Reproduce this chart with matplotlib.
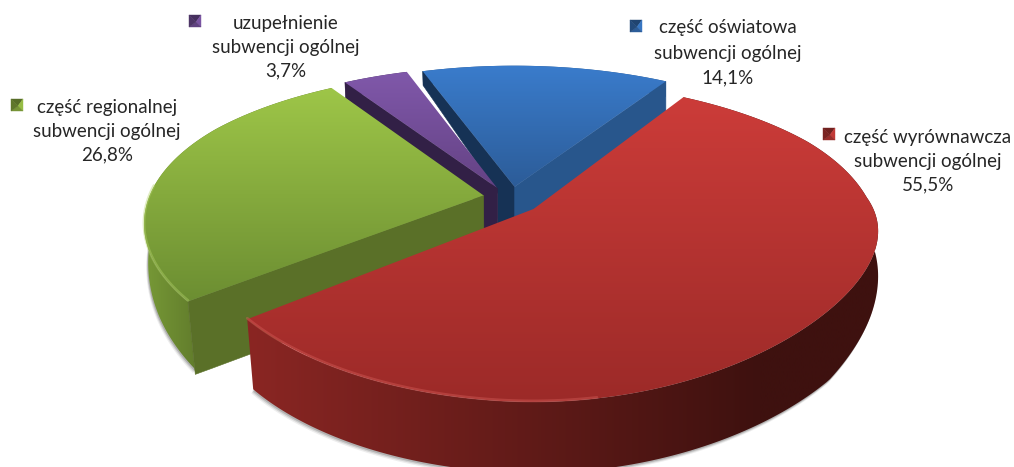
import numpy as np
import matplotlib
matplotlib.use("Agg")
import matplotlib.pyplot as plt
from matplotlib.patches import Polygon

# data
names = ["część wyrównawcza", "część regionalnej", "uzupełnienie", "część oświatowa"]
line2 = ["subwencji ogólnej"] * 4
shares = [55.5, 26.8, 3.7, 14.1]

# style
start_angle = 31.5
explode = [0.12, 0.065, 0.07, 0.07]
nudge = [0, 2, 4, 9]
warp = [21, 11, 0, 0]
start_wall_min = [0, 73, 0, 0]
end_wall_min = [0, 0, 0, 38]
top_cols = [((204, 60, 57), (156, 42, 40)), ((158, 198, 72), (108, 142, 50)),
            ((128, 88, 170), (100, 66, 132)), ((58, 124, 204), (44, 92, 152))]
rim_cols = [((138, 38, 35), (62, 17, 15)), ((118, 152, 54), (90, 114, 40)),
            ((70, 45, 95), (60, 38, 82)), ((40, 85, 140), (40, 85, 140))]
wall_start = [None, (90, 112, 40), (50, 32, 70), (22, 50, 85)]
wall_end = [None, None, None, (40, 86, 140)]
edge_cols = ["#d8605c", "#b4d46a", "#9878c0", "#6a9ad8"]
key_pos = [(829, 134), (17, 105), (195, 21), (636, 26)]
label_pos = [(928, [137, 161, 185]), (107, [107, 131, 155]),
             (286, [23, 47, 71]), (728, [28, 53, 78])]
draw_order = [3, 2, 1, 0]

X0, Y0, A, B, K = 503, 197, 340, 149, 0.2

plt.rcParams['font.family'] = ['Lato', 'DejaVu Sans']
fig = plt.figure(figsize=(10.14, 4.67), dpi=100)
ax = fig.add_axes([0, 0, 1, 1])
ax.set_xlim(0, 1014)
ax.set_ylim(467, 0)
ax.axis("off")


def project(u, v, w):
    s = 1.0 / (1.0 + K * v)
    x = X0 + A * u * s
    x = x + w * np.maximum(-u, 0) * np.maximum(0.5 - v, 0)
    x = x - 14 * np.maximum(u, 0) * np.maximum(0.4 - v, 0)
    y = Y0 - B * v * s - 25 * np.maximum(u, 0) ** 2 * np.maximum(-v, 0)
    return x, y


def depth(y):
    return np.interp(y, [70, 190, 260, 310, 470], [14, 31, 55, 70, 72])


def lower(x, y, d):
    """Lower edge of a wall: its depth, leaning inwards on the left side."""
    return x + 0.1 * d * np.clip((X0 - x) / 300, 0, 1), y + d


def grad_fill(poly, c0, c1, horizontal=False, lim=None, z=1):
    c0, c1 = np.array(c0) / 255, np.array(c1) / 255
    lo, hi = lim
    if horizontal:
        xs = np.linspace(0, 1014, 512)
        t = np.clip((xs - lo) / (hi - lo), 0, 1)
        colors = c0[None, :] * (1 - t[:, None]) + c1[None, :] * t[:, None]
        img, ext = colors[None, :, :], [0, 1014, 467, 0]
    else:
        t = np.linspace(0, 1, 256)
        colors = c0[None, :] * (1 - t[:, None]) + c1[None, :] * t[:, None]
        img, ext = colors[:, None, :], [0, 1014, hi, lo]
    im = ax.imshow(img, extent=ext, aspect="auto", zorder=z, interpolation="bilinear")
    p = Polygon(poly, closed=True, transform=ax.transData, fc="none", ec="none")
    ax.add_patch(p)
    im.set_clip_path(p)
    ax.set_xlim(0, 1014)
    ax.set_ylim(467, 0)


def solid(poly, col, z):
    ax.add_patch(Polygon(poly, closed=True, fc=np.array(col) / 255,
                         ec=np.array(col) / 255, lw=0.4, zorder=z))


angles = start_angle + np.cumsum([0] + shares) * 3.6
z = 2
geo = []
for i, share in enumerate(shares):
    t0, t1 = np.radians(angles[i]), np.radians(angles[i + 1])
    mid = (t0 + t1) / 2
    u0, v0 = explode[i] * np.sin(mid), explode[i] * np.cos(mid)
    th = np.linspace(t0, t1, 200)
    w = warp[i]
    ax_, ay_ = project(u0 + np.sin(th), v0 + np.cos(th), w)
    px, py = project(u0, v0, w)
    f = np.linspace(0, 1, 40)
    e0 = project(u0 + f * np.sin(t0), v0 + f * np.cos(t0), w)
    e1 = project(u0 + f * np.sin(t1), v0 + f * np.cos(t1), w)
    n = nudge[i]
    geo.append((ax_ + n, ay_, px + n, py, (e0[0] + n, e0[1]), (e1[0] + n, e1[1])))

# soft shadow under the pie
for i in (0, 1):
    ax_, ay_, px, py, e0, e1 = geo[i]
    lx, ly = lower(ax_, ay_, depth(ay_))
    keep = ay_ > py
    bx = np.r_[px, lx[keep]]
    by = np.r_[py, ly[keep]]
    for off, alpha in [(4, 0.10), (2.8, 0.18), (1.6, 0.28)]:
        ax.add_patch(Polygon(np.c_[bx - off * 0.5, by + off], closed=True, fc=(0.35, 0.35, 0.35),
                             ec="none", alpha=alpha, zorder=1))

for i in draw_order:
    ax_, ay_, px, py, e0, e1 = geo[i]
    # outer wall
    lx, ly = lower(ax_, ay_, depth(ay_))
    rim = np.r_[np.c_[ax_, ay_], np.c_[lx, ly][::-1]]
    lim = {0: (250, 760), 1: (146, 215)}.get(i, (300, 700))
    grad_fill(rim, rim_cols[i][0], rim_cols[i][1], True, lim, z)
    z += 1
    # walls continuing behind the neighbouring slices, near the centre
    if i >= 2:
        solid([(px, py), (px, py + 42), (px - 18, py + 42), (px - 18, py - 5)], wall_start[i], z)
        z += 1
    # radial walls
    for (ex, ey), col, dmin in ((e0, wall_start[i], start_wall_min[i]),
                                (e1, wall_end[i], end_wall_min[i])):
        if col is None:
            continue
        lx, ly = lower(ex, ey, np.maximum(depth(ey), dmin))
        wall = np.r_[np.c_[ex, ey], np.c_[lx, ly][::-1]]
        solid(wall, col, z)
        z += 1
    # top
    top = np.r_[[[px, py]], np.c_[ax_, ay_]]
    grad_fill(top, top_cols[i][0], top_cols[i][1], False,
              (ay_.min(), max(ay_.max(), py)), z)
    z += 1
    # bevel highlight along front rim
    if i < 2:
        front = (ay_ > py - 10) & (ax_ < 600)
        ax.plot(ax_[front], ay_[front] - 1, color=edge_cols[i], lw=2.0, alpha=0.4,
                zorder=z, solid_capstyle="round")
        z += 1

# legend keys and labels
for i, (name, sub, val) in enumerate(zip(names, line2, shares)):
    cx, cy = key_pos[i]
    h = 6
    base = np.array(top_cols[i][0]) / 255
    corners = [(cx - h, cy - h), (cx + h, cy - h), (cx + h, cy + h), (cx - h, cy + h)]
    for j, fac in enumerate((0.55, 0.95, 0.75, 0.6)):
        c = base * fac
        ax.add_patch(Polygon([corners[j], corners[(j + 1) % 4], (cx + 1, cy + 1)],
                             closed=True, fc=c, ec=c, lw=0.3, zorder=z))
    x, ys = label_pos[i]
    for line, y in zip((name, sub, f"{val:.1f}".replace(".", ",") + "%"), ys):
        ax.text(x, y, line, ha="center", va="center", fontsize=13.5, color="#262626", zorder=z + 1)

fig.savefig("out.png", dpi=100, facecolor="white")
